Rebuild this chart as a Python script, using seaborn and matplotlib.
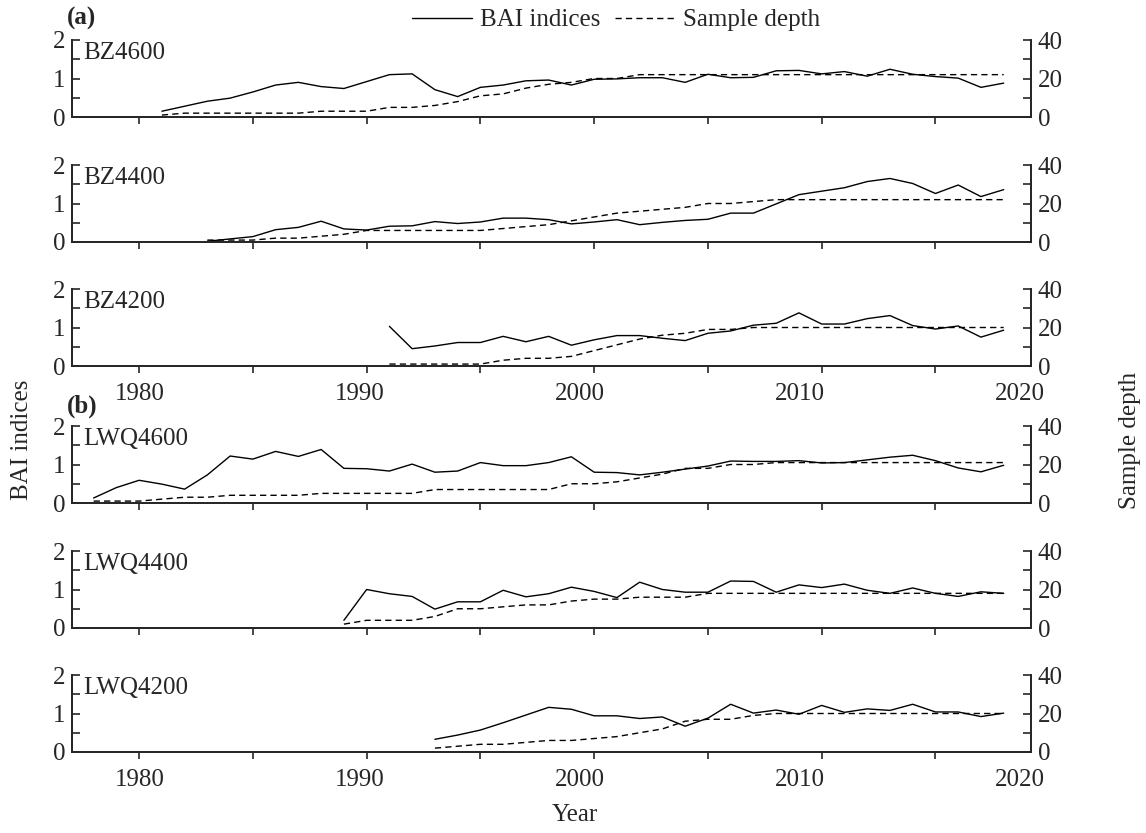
import numpy as np
import pandas as pd
import matplotlib.pyplot as plt
from matplotlib.lines import Line2D
from matplotlib.ticker import MultipleLocator, FixedLocator
import seaborn as sns

sns.set_theme(style="ticks")
plt.rcParams["font.family"] = ["Liberation Serif", "DejaVu Serif"]
plt.rcParams["font.size"] = 18

SITES = ["BZ4600", "BZ4400", "BZ4200", "LWQ4600", "LWQ4400", "LWQ4200"]
START_YEARS = [1981, 1983, 1991, 1978, 1989, 1993]
END_YEAR = 2018

bai_bz4600 = [0.15, 0.28, 0.41, 0.49, 0.65, 0.83, 0.90, 0.79, 0.74, 0.92,
              1.10, 1.12, 0.71, 0.53, 0.77, 0.83, 0.94, 0.96, 0.83, 0.98,
              0.99, 1.02, 1.02, 0.90, 1.11, 1.02, 1.03, 1.20, 1.21, 1.12,
              1.18, 1.06, 1.24, 1.11, 1.05, 1.01, 0.77, 0.88]
depth_bz4600 = [1, 2, 2, 2, 2, 2, 2, 3, 3, 3,
                5, 5, 6, 8, 11, 12, 15, 17, 18, 20,
                20, 22, 22, 22, 22, 22, 22, 22, 22, 22,
                22, 22, 22, 22, 22, 22, 22, 22]

bai_bz4400 = [0.02, 0.08, 0.14, 0.32, 0.38, 0.54, 0.34, 0.31,
              0.41, 0.42, 0.53, 0.48, 0.52, 0.62, 0.62, 0.58, 0.47, 0.52,
              0.58, 0.45, 0.51, 0.56, 0.59, 0.75, 0.75, 0.99, 1.23, 1.32,
              1.41, 1.57, 1.65, 1.52, 1.26, 1.48, 1.18, 1.36]
depth_bz4400 = [1, 1, 1, 2, 2, 3, 4, 6,
                6, 6, 6, 6, 6, 7, 8, 9, 11, 13,
                15, 16, 17, 18, 20, 20, 21, 22, 22, 22,
                22, 22, 22, 22, 22, 22, 22, 22]

bai_bz4200 = [1.03, 0.45, 0.52, 0.61, 0.61, 0.77, 0.63, 0.77, 0.54, 0.68,
              0.79, 0.79, 0.72, 0.66, 0.85, 0.91, 1.06, 1.11, 1.38, 1.09,
              1.09, 1.23, 1.31, 1.05, 0.96, 1.04, 0.75, 0.93]
depth_bz4200 = [1, 1, 1, 1, 1, 3, 4, 4, 5, 8,
                11, 14, 16, 17, 19, 19, 20, 20, 20, 20,
                20, 20, 20, 20, 20, 20, 20, 20]

bai_lwq4600 = [0.13, 0.40,
               0.59, 0.49, 0.36, 0.73, 1.22, 1.14, 1.34, 1.21, 1.39, 0.90,
               0.89, 0.83, 1.01, 0.80, 0.83, 1.05, 0.97, 0.97, 1.05, 1.20,
               0.80, 0.79, 0.73, 0.80, 0.88, 0.96, 1.09, 1.08, 1.08, 1.10,
               1.04, 1.05, 1.12, 1.19, 1.24, 1.10, 0.91, 0.81, 0.98]
depth_lwq4600 = [1, 1,
                 1, 2, 3, 3, 4, 4, 4, 4, 5, 5,
                 5, 5, 5, 7, 7, 7, 7, 7, 7, 10,
                 10, 11, 13, 15, 18, 18, 20, 20, 21, 21,
                 21, 21, 21, 21, 21, 21, 21, 21, 21]

bai_lwq4400 = [0.20,
               1.00, 0.89, 0.82, 0.49, 0.68, 0.68, 0.98, 0.81, 0.89, 1.06,
               0.95, 0.79, 1.19, 1.00, 0.93, 0.93, 1.22, 1.21, 0.93, 1.12,
               1.05, 1.14, 0.98, 0.90, 1.04, 0.90, 0.82, 0.94, 0.90]
depth_lwq4400 = [2,
                 4, 4, 4, 6, 10, 10, 11, 12, 12, 14,
                 15, 15, 16, 16, 16, 18, 18, 18, 18, 18,
                 18, 18, 18, 18, 18, 18, 18, 18, 18]

bai_lwq4200 = [0.33, 0.44, 0.57, 0.76, 0.96, 1.16, 1.11,
               0.94, 0.94, 0.87, 0.91, 0.67, 0.88, 1.24, 1.01, 1.09, 0.98,
               1.21, 1.03, 1.12, 1.08, 1.24, 1.04, 1.04, 0.92, 1.01]
depth_lwq4200 = [2, 3, 4, 4, 5, 6, 6,
                 7, 8, 10, 12, 16, 17, 17, 19, 20, 20,
                 20, 20, 20, 20, 20, 20, 20, 20, 20]

BAI = [bai_bz4600, bai_bz4400, bai_bz4200, bai_lwq4600, bai_lwq4400, bai_lwq4200]
DEPTH = [depth_bz4600, depth_bz4400, depth_bz4200,
         depth_lwq4600, depth_lwq4400, depth_lwq4200]

YEAR_LABELS = [1980, 1990, 2000, 2010, 2020]

frames = []
for site, start, bai, depth in zip(SITES, START_YEARS, BAI, DEPTH):
    frames.append(pd.DataFrame({
        "site": site,
        "year": np.arange(start, END_YEAR + 1),
        "bai": bai,
        "depth": depth,
    }))
df = pd.concat(frames, ignore_index=True)

W, H = 1146, 833
fig = plt.figure(figsize=(W / 100, H / 100), dpi=100)

# panel tops in pixels (from top of image)
tops = [40, 165, 289, 426, 551, 675]
left_px, right_px, height_px = 72, 1031, 77

DASH = (0, (4.5, 3))
axes = []
for i, site in enumerate(SITES):
    rect = [left_px / W, 1 - (tops[i] + height_px) / H,
            (right_px - left_px) / W, height_px / H]
    ax = fig.add_axes(rect)
    sub = df[df["site"] == site]
    sns.lineplot(data=sub, x="year", y="bai", ax=ax, color="black", lw=1.0)
    ax.set_xlim(1977.05, 2019.2)
    ax.set_ylim(0, 2)
    ax.set_xlabel("")
    ax.set_ylabel("")
    ax.yaxis.set_major_locator(MultipleLocator(1))
    ax.yaxis.set_minor_locator(MultipleLocator(0.5))
    ax.xaxis.set_major_locator(MultipleLocator(5))
    ax.set_xticklabels([])
    ax.tick_params(axis="y", which="both", direction="in", length=6, width=1.2,
                   pad=5, labelsize=18)
    ax.tick_params(axis="x", which="major", direction="out", length=5, width=1.2)
    for s in ["left", "bottom", "right"]:
        ax.spines[s].set_linewidth(1.3)
    ax.spines["top"].set_visible(False)
    ax.text(0.012, 0.97, site, transform=ax.transAxes, ha="left", va="top",
            fontsize=18)

    ax2 = ax.twinx()
    sns.lineplot(data=sub, x="year", y="depth", ax=ax2, color="black",
                 lw=1.0, linestyle=DASH)
    ax2.set_ylim(0, 40)
    ax2.set_ylabel("")
    ax2.yaxis.set_major_locator(MultipleLocator(20))
    ax2.yaxis.set_minor_locator(MultipleLocator(10))
    ax2.tick_params(axis="y", which="both", direction="in", length=6, width=1.2,
                    pad=5, labelsize=18)
    ax2.spines["top"].set_visible(False)
    for s in ["left", "bottom", "right"]:
        ax2.spines[s].set_linewidth(1.3)

    if i in (2, 5):
        # year labels are drawn on their own axis, as in the source figure
        axl = ax.twiny()
        axl.set_xlim(1976.94, 2020.5)
        axl.xaxis.set_major_locator(FixedLocator(YEAR_LABELS))
        axl.xaxis.set_ticks_position("bottom")
        axl.tick_params(axis="x", length=0, pad=12, labelsize=18)
        for s in axl.spines.values():
            s.set_visible(False)
    axes.append(ax)

fig.text(67 / W, 1 - 18 / H, "(a)", fontweight="bold", fontsize=18,
         ha="left", va="center")
fig.text(67 / W, 1 - 406 / H, "(b)", fontweight="bold", fontsize=18,
         ha="left", va="center")
fig.text(22 / W, 1 - 440 / H, "BAI indices", rotation=90, fontsize=18,
         ha="center", va="center")
fig.text(1130 / W, 1 - 440 / H, "Sample depth", rotation=90, fontsize=18,
         ha="center", va="center")
fig.text(575 / W, 1 - 815 / H, "Year", fontsize=18, ha="center", va="center")

handles = [Line2D([], [], color="black", lw=1.0),
           Line2D([], [], color="black", lw=1.0, linestyle=DASH)]
fig.legend(handles, ["BAI indices", "Sample depth"], loc="center",
           bbox_to_anchor=(616 / W, 1 - 20 / H), ncol=2, frameon=False,
           fontsize=18, handlelength=2.4, handletextpad=0.3, columnspacing=0.6)

fig.savefig("out.png", dpi=100)
